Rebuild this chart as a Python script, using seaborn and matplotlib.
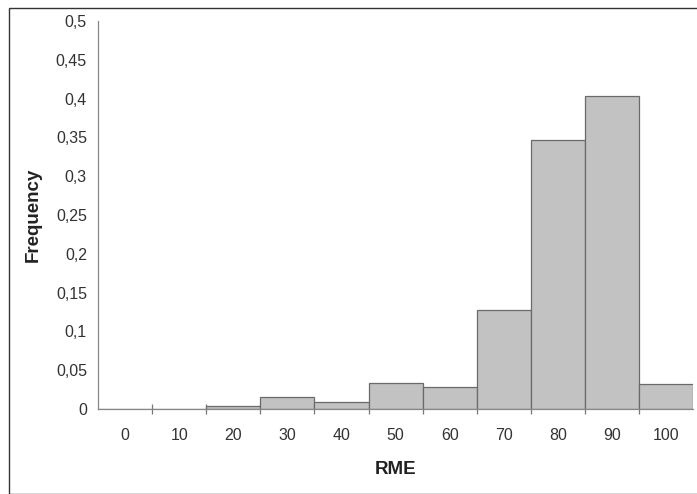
import numpy as np
import pandas as pd
import matplotlib
matplotlib.use('Agg')
import matplotlib.pyplot as plt
import seaborn as sns
from matplotlib.ticker import FuncFormatter, FixedLocator

# values
rme = ['0', '10', '20', '30', '40', '50', '60', '70', '80', '90', '100']
freq = [0.0, 0.0, 0.004, 0.016, 0.009, 0.0335, 0.029, 0.128, 0.347, 0.403, 0.032]
y_ticks = [0, 0.05, 0.1, 0.15, 0.2, 0.25, 0.3, 0.35, 0.4, 0.45, 0.5]

df = pd.DataFrame({'RME': rme, 'Frequency': freq})

sns.set_style('white')
plt.rcParams['font.family'] = ['Liberation Sans', 'DejaVu Sans']

fig = plt.figure(figsize=(6.97, 4.94), dpi=100)
ax = fig.add_axes([0.1406, 0.172, 0.854, 0.7855])
sns.barplot(x='RME', y='Frequency', data=df, order=rme, width=1.0,
            color='#c2c2c2', edgecolor='#6a6a6a', linewidth=0.9,
            saturation=1, ax=ax)

ax.set_xlim(-0.5, len(rme) - 0.5)
ax.set_ylim(0, 0.5)
ax.yaxis.set_major_locator(FixedLocator(y_ticks))
ax.yaxis.set_major_formatter(FuncFormatter(lambda v, p: f'{v:g}'.replace('.', ',')))

# category labels centred, tick marks on the bin boundaries
ax.set_xticks(range(len(rme)))
ax.set_xticklabels(rme)
ax.set_xticks(np.arange(0.5, len(rme) - 0.5, 1), minor=True)
ax.tick_params(axis='x', which='major', bottom=False, length=0, pad=14,
               labelsize=11.5, colors='#333333')
ax.tick_params(axis='x', which='minor', bottom=True, length=7, direction='inout',
               color='#777777', width=0.9)
ax.tick_params(axis='y', length=0, pad=8, labelsize=11.5, colors='#333333')

for s in ['top', 'right']:
    ax.spines[s].set_visible(False)
for s in ['left', 'bottom']:
    ax.spines[s].set_color('#888888')
    ax.spines[s].set_linewidth(0.9)

ax.set_xlabel('RME', fontsize=13.5, fontweight='bold', color='#222222')
ax.set_ylabel('Frequency', fontsize=13.5, fontweight='bold', color='#222222', labelpad=10)
ax.xaxis.set_label_coords(0.5, -0.135)

# outer frame of the figure
fig.patches.append(plt.Rectangle((9 / 697, 0.0), 1.0, 1 - 8 / 494, transform=fig.transFigure,
                                 fill=False, edgecolor='#333333', linewidth=1.0))

fig.savefig('out.png', dpi=100)
plt.close(fig)
